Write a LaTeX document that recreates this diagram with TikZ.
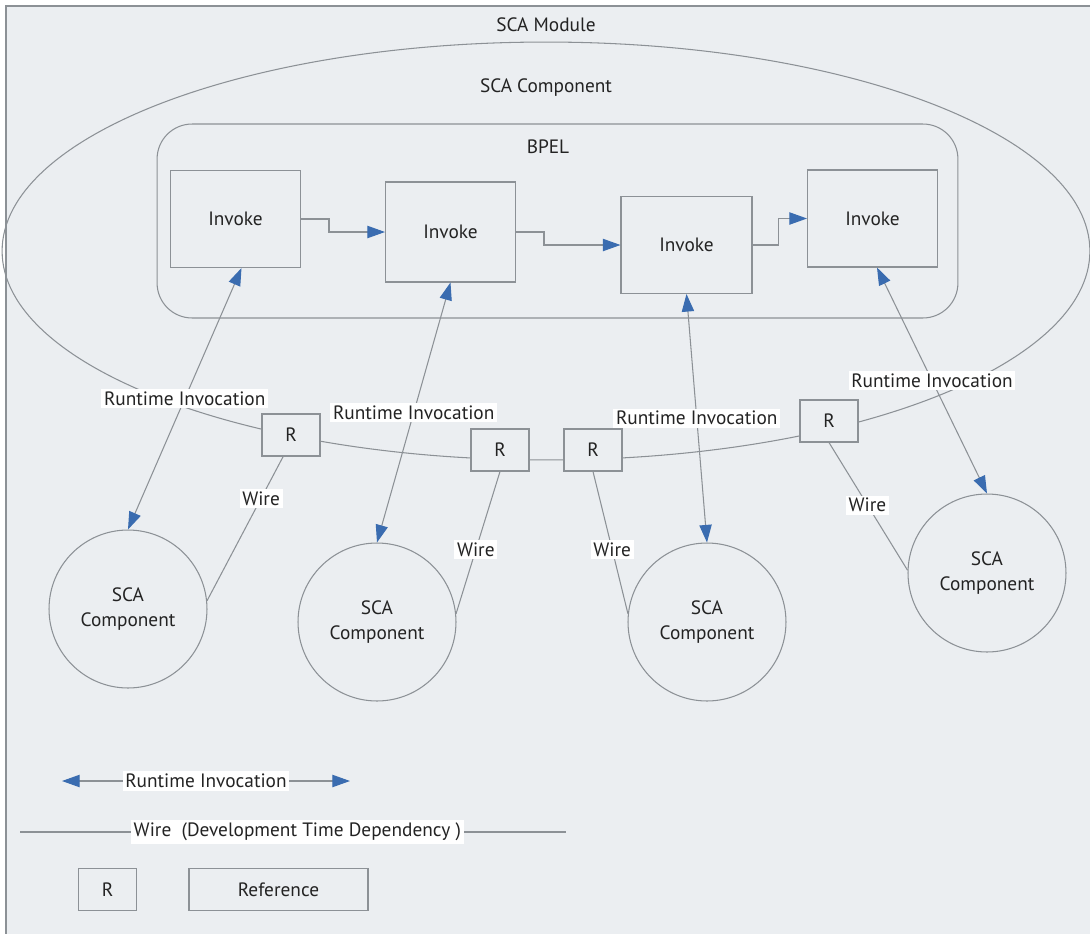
\documentclass[tikz,border=0pt]{standalone}
\usepackage{fontspec}
\setmainfont{PT Sans}
\usetikzlibrary{arrows.meta,shapes.geometric}
\definecolor{fondgris}{RGB}{235,238,241}
\definecolor{traitgris}{RGB}{140,145,150}
\definecolor{bleufleche}{RGB}{58,108,176}
\definecolor{texte}{RGB}{35,35,35}

\begin{document}
\begin{tikzpicture}[x=0.02cm,y=-0.02cm,font=\fontsize{11}{14}\selectfont,
  >={Triangle[length=10pt,width=7pt,color=bleufleche]}]
\tikzset{boite/.style={draw=traitgris, line width=0.6pt, minimum width=2.6cm, minimum height=1.94cm, inner sep=0pt, text=texte},
  refbox/.style={draw=traitgris, fill=fondgris, line width=0.6pt, minimum width=1.16cm, minimum height=0.84cm, inner sep=0pt, text=texte},
  compo/.style={draw=traitgris, circle, line width=0.6pt, minimum size=3.16cm, align=center, inner sep=0pt, text=texte},
  etiq/.style={fill=white, inner sep=1.5pt, text=texte},
  titre/.style={text=texte},
  trait/.style={draw=traitgris, line width=0.6pt}}
\useasboundingbox (0,0) rectangle (1090,934);
\fill[white] (0,0) rectangle (1090,934);
\fill[fondgris] (6,6) rectangle (1090,934);
\draw[trait] (6,934) -- (6,6) -- (1090,6);
% module et composant
\node[trait, ellipse, minimum width=21.76cm, minimum height=8.36cm, inner sep=0pt] (module) at (546,251) {};
\node[titre] (titremodule) at (546,25) {SCA Module};
\node[titre] (titrecompo) at (546,88) {SCA Component};
% BPEL
\node[trait, rounded corners=0.7cm, minimum width=16.02cm, minimum height=3.88cm] (bpel) at (557.5,221) {};
\node[titre] (titrebpel) at (548,147) {BPEL};
\node[boite] (inv1) at (235.5,219) {Invoke};
\node[boite, minimum height=2cm] (inv2) at (450.5,232) {Invoke};
\node[boite, minimum width=2.62cm] (inv3) at (686.5,245) {Invoke};
\node[boite] (inv4) at (872.5,218.5) {Invoke};
\draw[trait,->] (inv1.east) -- ++(28,0) |- (inv2.west);
\draw[trait,->] (inv2.east) -- ++(28,0) |- (inv3.west);
\draw[trait,->] (inv3.east) -- ++(26,0) |- (inv4.west);
% references
\node[refbox] (r1) at (291,435) {R};
\node[refbox] (r2) at (500,450) {R};
\node[refbox] (r3) at (593,450) {R};
\node[refbox] (r4) at (829,421) {R};
% composants externes
\node[compo] (c1) at (128,609) {SCA\\Component};
\node[compo] (c2) at (377,622) {SCA\\Component};
\node[compo] (c3) at (707,622) {SCA\\Component};
\node[compo] (c4) at (987,573) {SCA\\Component};
\draw[trait,<->] ([xshift=0.12cm]inv1.south) -- node[etiq] {Runtime Invocation} (c1.north);
\draw[trait,<->] (inv2.south) -- node[etiq] {Runtime Invocation} (c2.north);
\draw[trait,<->] (inv3.south) -- node[etiq] {Runtime Invocation} (c3.north);
\draw[trait,<->] ([xshift=0.09cm]inv4.south) -- node[etiq] {Runtime Invocation} (c4.north);
\draw[trait] (r1.250) -- node[etiq, pos=0.29] {Wire} (c1.6);
\draw[trait] (r2.south) -- node[etiq, pos=0.55] {Wire} (c2.6);
\draw[trait] (r3.south) -- node[etiq, pos=0.55] {Wire} (c3.174);
\draw[trait] (r4.south) -- node[etiq, pos=0.49] {Wire} (c4.178);
% legende
\coordinate (legA) at (62,781);
\coordinate (legB) at (350,781);
\draw[trait,<->] (legA) -- node[etiq] {Runtime Invocation} (legB);
\coordinate (legC) at (20,832);
\coordinate (legD) at (566,832);
\draw[trait] (legC) -- node[etiq, pos=0.508] {Wire~ (Development Time Dependency )} (legD);
\node[refbox] (legR) at (107.5,889.5) {R};
\node[refbox, minimum width=3.58cm] (legref) at (278.5,889.5) {Reference};
\end{tikzpicture}
\end{document}
